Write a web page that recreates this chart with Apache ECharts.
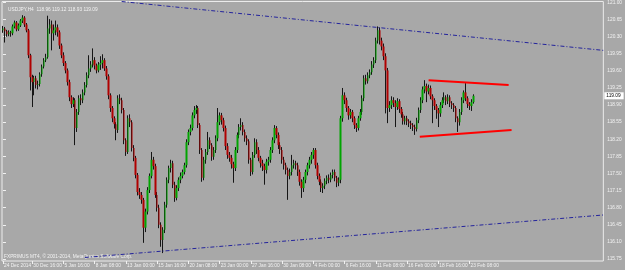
<!DOCTYPE html>
<html>
<head>
<meta charset="utf-8">
<script src="https://cdn.jsdelivr.net/npm/echarts@6/dist/echarts.min.js"></script>
<style>
html, body { margin: 0; padding: 0; background: #a8a8a8; }
#container { width: 625px; height: 270px; }
</style>
</head>
<body>
<div id="container"></div>
<script>
// USDJPY H4, one candle per bar: [open, close, low, high]
var symbol = 'USDJPY,H4';
var candles = [
  [120.43,120.47,120.38,120.52],[120.47,120.41,120.18,120.50],[120.41,120.35,120.30,120.44],[120.35,120.39,120.31,120.43],[120.39,120.37,120.30,120.42],
  [120.37,120.51,120.33,120.55],[120.51,120.59,120.47,120.63],[120.59,120.45,120.41,120.62],[120.45,120.53,120.42,120.57],[120.53,120.63,120.50,120.66],
  [120.63,120.69,120.58,120.74],[120.69,120.55,120.50,120.72],[120.55,120.43,120.39,120.58],[120.43,119.92,119.86,120.46],[119.92,119.47,119.20,119.95],
  [119.47,119.37,118.86,119.52],[119.37,119.45,119.10,119.50],[119.45,119.31,119.24,119.50],[119.31,119.33,119.22,119.40],[119.33,119.53,119.28,119.57],
  [119.53,119.69,119.48,119.73],[119.69,119.82,119.65,119.86],[119.82,119.88,119.78,119.95],[119.88,120.47,119.85,120.73],[120.47,120.55,120.36,120.66],
  [120.55,120.37,120.02,120.63],[120.37,120.43,120.22,120.55],[120.43,120.49,120.33,120.63],[120.49,120.39,120.30,120.55],[120.39,120.12,120.05,120.43],
  [120.12,119.92,119.86,120.16],[119.92,119.76,119.70,119.98],[119.76,119.61,119.55,119.80],[119.61,119.37,119.30,119.65],[119.37,119.06,118.98,119.42],
  [119.06,118.92,118.84,119.10],[118.92,119.00,118.86,119.06],[119.00,118.43,118.08,119.04],[118.43,118.76,118.35,118.82],[118.76,119.04,118.70,119.10],
  [119.04,119.00,118.90,119.12],[119.00,119.16,118.94,119.22],[119.16,119.31,119.10,119.37],[119.31,119.51,119.26,119.57],[119.51,119.65,119.45,119.92],
  [119.65,119.73,119.58,119.80],[119.73,119.82,119.67,120.06],[119.82,119.71,119.63,119.88],[119.71,119.61,119.55,119.75],[119.61,119.73,119.57,119.78],
  [119.73,119.76,119.62,119.90],[119.76,119.82,119.65,119.94],[119.82,119.65,119.60,119.86],[119.65,119.49,119.42,119.70],[119.49,119.10,119.02,119.53],
  [119.10,118.84,118.76,119.14],[118.84,118.63,118.55,118.88],[118.63,118.51,118.42,118.67],[118.51,118.39,118.18,118.55],[118.39,119.04,118.33,119.10],
  [119.04,119.00,118.92,119.12],[119.00,118.80,118.73,119.05],[118.80,118.18,118.10,118.84],[118.18,117.94,117.86,118.22],[117.94,118.63,117.90,118.69],
  [118.63,118.55,118.45,118.71],[118.55,118.02,117.95,118.59],[118.02,117.82,117.75,118.08],[117.82,117.47,117.40,117.86],[117.47,117.12,117.05,117.51],
  [117.12,117.06,116.98,117.20],[117.06,116.96,116.88,117.12],[116.96,116.39,116.08,117.00],[116.39,116.72,116.30,116.78],[116.72,117.16,116.66,117.22],
  [117.16,117.45,117.10,117.50],[117.45,117.78,117.40,117.94],[117.78,117.65,117.58,117.84],[117.65,117.06,117.00,117.70],[117.06,116.80,116.72,117.12],
  [116.80,116.45,116.38,116.86],[116.45,116.14,116.00,116.50],[116.14,116.35,115.87,116.40],[116.35,116.86,116.28,116.92],[116.86,117.37,116.80,117.42],
  [117.37,117.61,117.30,117.66],[117.61,117.71,117.52,117.78],[117.71,117.27,117.20,117.76],[117.27,117.00,116.92,117.33],[117.00,117.20,116.95,117.26],
  [117.20,117.37,117.14,117.42],[117.37,117.45,117.30,117.52],[117.45,117.53,117.40,117.58],[117.53,117.67,117.48,117.72],[117.67,118.14,117.62,118.20],
  [118.14,118.35,118.08,118.40],[118.35,118.43,118.28,118.50],[118.43,118.69,118.38,118.75],[118.69,118.80,118.63,118.88],[118.80,118.84,118.72,118.90],
  [118.84,118.49,118.43,118.88],[118.49,117.98,117.90,118.53],[117.98,117.41,117.33,118.02],[117.41,117.78,117.36,117.84],[117.78,117.94,117.70,118.00],
  [117.94,118.18,117.88,118.35],[118.18,118.08,118.00,118.24],[118.08,117.84,117.76,118.12],[117.84,117.98,117.78,118.04],[117.98,118.22,117.92,118.28],
  [118.22,118.55,118.16,118.84],[118.55,118.69,118.49,118.75],[118.69,118.59,118.50,118.74],[118.59,118.43,118.36,118.64],[118.43,118.06,117.98,118.48],
  [118.06,117.88,117.80,118.12],[117.88,117.82,117.74,117.94],[117.82,117.69,117.60,117.88],[117.69,117.61,117.31,117.74],[117.61,117.98,117.55,118.04],
  [117.98,118.29,117.92,118.34],[118.29,118.45,118.22,118.51],[118.45,118.49,118.38,118.63],[118.49,118.35,118.28,118.55],[118.35,118.22,118.15,118.40],
  [118.22,118.16,118.08,118.28],[118.16,117.78,117.70,118.20],[117.78,117.53,117.45,117.82],[117.53,117.88,117.48,117.94],[117.88,118.14,117.82,118.22],
  [118.14,117.98,117.90,118.20],[117.98,117.82,117.75,118.04],[117.82,117.71,117.62,117.86],[117.71,117.65,117.55,117.78],[117.65,117.57,117.27,117.70],
  [117.57,117.74,117.50,117.80],[117.74,117.78,117.66,117.84],[117.78,117.98,117.72,118.04],[117.98,118.18,117.92,118.24],[118.18,118.43,118.12,118.49],
  [118.43,118.29,118.22,118.47],[118.29,118.08,118.00,118.34],[118.08,117.98,117.90,118.14],[117.98,117.78,117.70,118.04],[117.78,117.67,117.58,117.84],
  [117.67,117.57,117.48,117.72],[117.57,117.45,116.96,117.62],[117.45,117.53,117.38,117.60],[117.53,117.67,117.46,117.88],[117.67,117.71,117.60,117.78],
  [117.71,117.67,117.58,117.76],[117.67,117.53,117.45,117.72],[117.53,117.33,117.25,117.58],[117.33,117.20,117.00,117.38],[117.20,117.37,117.12,117.43],
  [117.37,117.53,117.30,117.58],[117.53,117.67,117.46,117.72],[117.67,117.78,117.60,117.84],[117.78,117.88,117.70,117.94],[117.88,117.98,117.80,118.02],
  [117.98,117.67,117.60,118.02],[117.67,117.45,117.38,117.72],[117.45,117.33,117.26,117.50],[117.33,117.20,117.12,117.38],[117.20,117.25,117.10,117.30],
  [117.25,117.35,117.18,117.40],[117.35,117.41,117.28,117.46],[117.41,117.37,117.30,117.48],[117.37,117.47,117.32,117.52],[117.47,117.53,117.40,117.58],
  [117.53,117.41,117.34,117.58],[117.41,117.31,117.22,117.45],[117.31,117.37,117.24,117.42],[117.37,118.63,117.30,118.68],[118.63,119.10,118.56,119.25],
  [119.10,119.00,118.92,119.16],[119.00,118.84,118.76,119.05],[118.84,118.69,118.60,118.88],[118.69,118.76,118.62,118.82],[118.76,118.63,118.55,118.80],
  [118.63,118.49,118.41,118.67],[118.49,118.43,118.35,118.53],[118.43,118.63,118.38,118.68],[118.63,118.76,118.58,118.82],[118.76,119.04,118.70,119.10],
  [119.04,119.45,118.98,119.51],[119.45,119.39,119.32,119.52],[119.39,119.51,119.34,119.57],[119.51,119.57,119.45,119.63],[119.57,119.73,119.52,119.80],
  [119.73,119.82,119.66,119.88],[119.82,120.22,119.76,120.28],[120.22,120.43,120.16,120.51],[120.43,120.22,120.14,120.49],[120.22,120.10,120.02,120.28],
  [120.10,119.90,119.82,120.16],[119.90,119.61,118.73,119.96],[119.61,118.84,118.53,119.66],[118.84,118.90,118.76,118.98],[118.90,119.00,118.82,119.08],
  [119.00,118.94,118.86,119.06],[118.94,118.86,118.45,119.00],[118.86,118.98,118.80,119.04],[118.98,118.82,118.74,119.02],[118.82,118.71,118.64,118.86],
  [118.71,118.57,118.50,118.76],[118.57,118.63,118.50,118.68],[118.63,118.57,118.49,118.68],[118.57,118.53,118.45,118.61],[118.53,118.49,118.41,118.58],
  [118.49,118.45,118.37,118.53],[118.45,118.41,118.29,118.50],[118.41,118.59,118.36,118.64],[118.59,118.80,118.53,118.85],[118.80,119.00,118.74,119.06],
  [119.00,119.22,118.94,119.28],[119.22,119.29,119.14,119.41],[119.29,119.18,118.96,119.34],[119.18,119.25,119.12,119.32],[119.25,119.08,119.02,119.30],
  [119.08,119.00,118.53,119.12],[119.00,118.88,118.80,119.04],[118.88,118.80,118.62,118.92],[118.80,118.73,118.45,118.84],[118.73,118.90,118.66,118.96],
  [118.90,119.00,118.84,119.06],[119.00,119.06,118.94,119.16],[119.06,118.98,118.90,119.10],[118.98,119.06,118.92,119.12],[119.06,118.94,118.86,119.10],
  [118.94,118.90,118.82,118.98],[118.90,118.84,118.76,118.94],[118.84,118.63,118.55,118.88],[118.63,118.55,118.35,118.67],[118.55,118.76,118.48,118.82],
  [118.76,119.00,118.70,119.06],[119.00,119.16,118.94,119.20],[119.16,119.04,118.98,119.35],[119.04,118.92,118.84,119.08],[118.92,118.88,118.80,118.96],
  [118.88,118.96,118.78,119.02],[118.96,119.09,118.93,119.12]
];

// time scale: bar index of each label, and its text
var tickIdx = [0, 15, 31, 47, 63, 79, 95, 111, 127, 143, 159, 175, 191, 207, 223, 239];
var tickText = ['24 Dec 2014', '30 Dec 16:00', '5 Jan 16:00', '8 Jan 08:00', '13 Jan 00:00', '15 Jan 16:00',
  '20 Jan 08:00', '23 Jan 00:00', '27 Jan 16:00', '30 Jan 08:00', '4 Feb 00:00', '6 Feb 16:00',
  '11 Feb 08:00', '16 Feb 00:00', '18 Feb 16:00', '23 Feb 08:00'];
var priceTicks = [115.75, 116.10, 116.45, 116.80, 117.15, 117.50, 117.85, 118.20, 118.55, 118.90,
  119.25, 119.60, 119.95, 120.30, 120.65, 121.00];
var barSlots = 308;

// trendlines: [bar index, price]
var blueUpper = [[60.8, 121.02], [307.5, 120.02]];
var blueLower = [[41.9, 115.78], [307.5, 116.65]];
var redUpper = [[218, 119.41], [259, 119.31]];
var redLower = [[213.5, 118.25], [260.5, 118.39]];

var textColor = '#f2f2f2';
var font = 'Liberation Sans';
var fs = 4.8;

var categories = [];
for (var i = 0; i < barSlots; i++) categories.push('');
for (var k = 0; k < tickIdx.length; k++) categories[tickIdx[k]] = tickText[k];

var bodies = candles.map(function (c) {
  return [c[0], c[1], Math.min(c[0], c[1]), Math.max(c[0], c[1])];
});
var last = candles[candles.length - 1];

var myChart = echarts.init(document.getElementById('container'));
var option = {
  animation: false,
  backgroundColor: '#a8a8a8',
  title: {
    text: symbol + '  ' + [last[0], last[3], last[2], last[1]].map(function (v) { return v.toFixed(2); }).join(' '),
    left: 3, top: 2,
    textStyle: { color: textColor, fontSize: fs, fontWeight: 'normal', fontFamily: font }
  },
  graphic: [{
    type: 'text', left: 4, top: 254,
    style: { text: 'FXPRIMUS MT4, \u00a9 2001-2014, MetaQuotes Software Corp.', fill: textColor, font: fs + 'px ' + font }
  }, {
    // current price box on the price scale
    type: 'group', right: 0, top: 0, children: []
  }],
  grid: {
    left: 2, right: 20, top: 1, bottom: 9,
    show: true, borderColor: '#ececec', borderWidth: 1, backgroundColor: 'transparent'
  },
  xAxis: [{
    type: 'category',
    data: categories,
    boundaryGap: true,
    axisLine: { show: false },
    axisTick: {
      show: true, alignWithLabel: true, length: 3, lineStyle: { color: textColor },
      interval: function (idx, val) { return val !== ''; }
    },
    axisLabel: {
      interval: 0, color: textColor, fontSize: fs, fontFamily: font,
      align: 'left', margin: 2, padding: [0, 0, 0, 1]
    },
    splitLine: { show: false }
  }, {
    type: 'value', min: -0.5, max: barSlots - 0.5, show: false
  }],
  yAxis: {
    type: 'value', position: 'right',
    min: 115.708, max: 121.02,
    axisLine: { show: false },
    splitLine: { show: false },
    axisTick: { show: true, length: 3, customValues: priceTicks, lineStyle: { color: textColor } },
    axisLabel: {
      customValues: priceTicks, color: textColor, fontSize: fs, fontFamily: font, margin: 4,
      formatter: function (v) { return v.toFixed(2); }
    }
  },
  series: [{
    name: 'wicks', type: 'candlestick', data: candles, barWidth: 0.01,
    itemStyle: { color: '#151515', color0: '#151515', borderColor: '#151515', borderColor0: '#151515', borderWidth: 1 }
  }, {
    name: 'bodies', type: 'candlestick', data: bodies, barWidth: 2, z: 3,
    itemStyle: { color: '#00a400', color0: '#b00000', borderColor: '#00a400', borderColor0: '#b00000', borderWidth: 0 },
    markLine: {
      silent: true, symbol: 'none', z: 10,
      lineStyle: { color: 'rgba(0,0,0,0)', width: 1, type: 'solid' },
      label: {
        show: true, position: 'end', distance: 1, color: '#000', backgroundColor: '#ffffff',
        fontSize: fs, fontFamily: font, padding: [1, 3, 1, 2],
        formatter: function () { return last[1].toFixed(2); }
      },
      emphasis: { disabled: true },
      data: [{ yAxis: last[1] }]
    }
  }, {
    type: 'line', xAxisIndex: 1, data: blueUpper, symbol: 'none', silent: true,
    lineStyle: { color: '#24249c', width: 1, type: [4, 2, 1, 2] }
  }, {
    type: 'line', xAxisIndex: 1, data: blueLower, symbol: 'none', silent: true,
    lineStyle: { color: '#24249c', width: 1, type: [4, 2, 1, 2] }
  }, {
    type: 'line', xAxisIndex: 1, data: redUpper, symbol: 'none', silent: true,
    lineStyle: { color: '#ff0000', width: 2 }
  }, {
    type: 'line', xAxisIndex: 1, data: redLower, symbol: 'none', silent: true,
    lineStyle: { color: '#ff0000', width: 2 }
  }]
};
myChart.setOption(option);
</script>
</body>
</html>
